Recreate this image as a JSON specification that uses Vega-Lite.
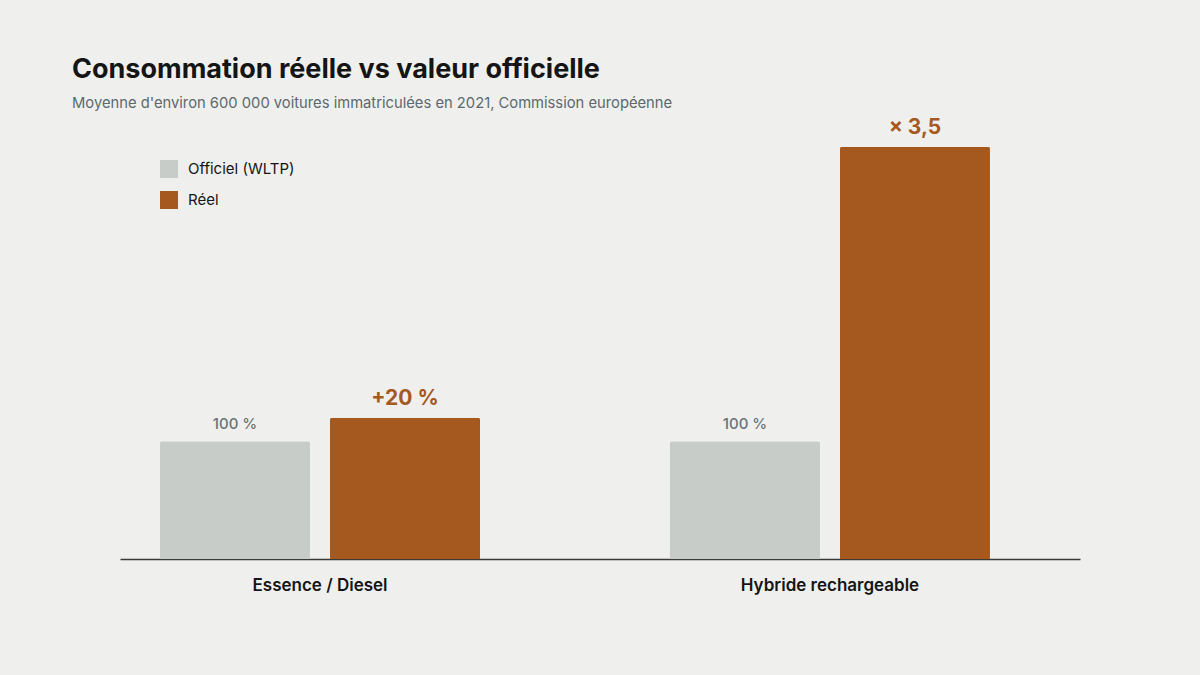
{
  "$schema": "https://vega.github.io/schema/vega-lite/v6.json",
  "autosize": "none",
  "width": 960,
  "height": 424,
  "padding": {"left": 120, "top": 135, "right": 120, "bottom": 116},
  "background": "#eff0ed",
  "title": {
    "text": "Consommation réelle vs valeur officielle",
    "subtitle": "Moyenne d'environ 600 000 voitures immatriculées en 2021, Commission européenne",
    "anchor": "start",
    "frame": "group",
    "dx": -48,
    "dy": 5,
    "font": "Inter",
    "fontSize": 27,
    "fontWeight": 700,
    "color": "#151515",
    "subtitleFont": "Inter",
    "subtitleFontSize": 14.75,
    "subtitleColor": "#5d686d",
    "subtitlePadding": 12,
    "offset": 10
  },
  "data": {
    "values": [
      {"groupe": "Essence / Diesel", "type": "Officiel (WLTP)", "valeur": 100, "etiquette": "100 %"},
      {"groupe": "Essence / Diesel", "type": "Réel", "valeur": 120, "etiquette": "+20 %"},
      {"groupe": "Hybride rechargeable", "type": "Officiel (WLTP)", "valeur": 100, "etiquette": "100 %"},
      {"groupe": "Hybride rechargeable", "type": "Réel", "valeur": 350, "etiquette": "× 3,5"}
    ]
  },
  "encoding": {
    "x": {
      "field": "groupe",
      "type": "nominal",
      "sort": null,
      "title": null,
      "scale": {"paddingInner": 0.3725, "paddingOuter": 0.1275, "align": 0.3077},
      "axis": {
        "labelAngle": 0,
        "ticks": false,
        "labelPadding": 18,
        "labelFont": "Inter",
        "labelFontSize": 17,
        "labelFontWeight": 600,
        "labelColor": "#151515",
        "domainColor": "#3a3a3a",
        "domainWidth": 1.5
      }
    },
    "xOffset": {
      "field": "type",
      "type": "nominal",
      "sort": ["Officiel (WLTP)", "Réel"],
      "scale": {"paddingInner": 0.1176, "paddingOuter": 0}
    },
    "y": {
      "field": "valeur",
      "type": "quantitative",
      "scale": {"domain": [0, 360], "nice": false},
      "axis": null
    }
  },
  "layer": [
    {
      "mark": {"type": "bar", "cornerRadiusTopLeft": 2, "cornerRadiusTopRight": 2},
      "encoding": {
        "color": {
          "field": "type",
          "type": "nominal",
          "scale": {"domain": ["Officiel (WLTP)", "Réel"], "range": ["#c7ccc8", "#a5591e"]},
          "legend": {
            "title": null,
            "orient": "none",
            "legendX": 40,
            "legendY": 25,
            "symbolType": "square",
            "symbolSize": 324,
            "symbolStrokeWidth": 0,
            "symbolOpacity": 1,
            "labelFont": "Inter",
            "labelFontSize": 15,
            "labelColor": "#151515",
            "labelOffset": 10,
            "rowPadding": 13
          }
        }
      }
    },
    {
      "transform": [{"filter": "datum.type === 'Officiel (WLTP)'"}],
      "mark": {
        "type": "text",
        "baseline": "alphabetic",
        "dy": -12,
        "font": "Inter",
        "fontSize": 15,
        "fontWeight": 500,
        "color": "#6a7377"
      },
      "encoding": {"text": {"field": "etiquette"}}
    },
    {
      "transform": [{"filter": "datum.type === 'Réel'"}],
      "mark": {
        "type": "text",
        "baseline": "alphabetic",
        "dy": -13,
        "font": "Inter",
        "fontSize": 21,
        "fontWeight": 700,
        "color": "#a5591e"
      },
      "encoding": {"text": {"field": "etiquette"}}
    }
  ],
  "config": {
    "view": {"stroke": null}
  }
}
